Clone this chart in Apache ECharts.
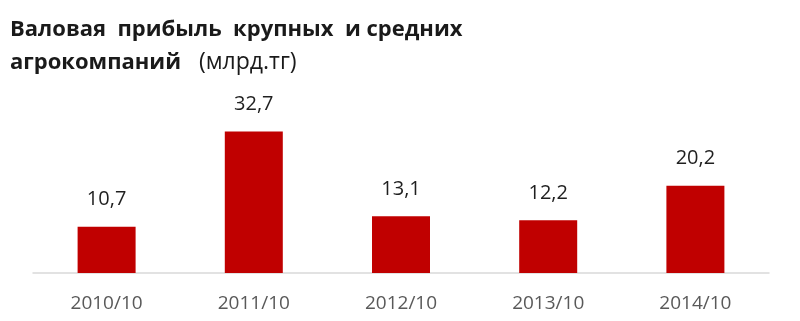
<!DOCTYPE html>
<html><head><meta charset="utf-8">
<script src="https://cdn.jsdelivr.net/npm/echarts@6/dist/echarts.min.js"></script>
<style>html,body{margin:0;padding:0;background:#fff}#c{width:800px;height:321px}</style>
</head><body><div id="c"></div>
<script>
const categories = ['2010/10', '2011/10', '2012/10', '2013/10', '2014/10'];
const values = [10.7, 32.7, 13.1, 12.2, 20.2];
const titleLine1 = 'Валовая  прибыль  крупных  и средних';
const titleLine2a = 'агрокомпаний';
const titleLine2b = '   (млрд.тг)';

const chart = echarts.init(document.getElementById('c'), null, {renderer: 'canvas'});
chart.setOption({
  backgroundColor: '#ffffff',
  animation: false,
  title: {
    left: 5, top: 8,
    text: '{b|' + titleLine1 + '}\n{b|' + titleLine2a + '}{n|' + titleLine2b + '}',
    textStyle: {
      rich: {
        b: {fontFamily: 'Open Sans', fontWeight: 'bold', fontSize: 22, color: '#1a1a1a', lineHeight: 33},
        n: {fontFamily: 'Open Sans', fontWeight: 'normal', fontSize: 23, color: '#1a1a1a', lineHeight: 33}
      }
    }
  },
  grid: {left: 33, right: 31, top: 100, bottom: 48},
  xAxis: {
    type: 'category', data: categories,
    axisLine: {lineStyle: {color: '#d9d9d9', width: 1.5}},
    axisTick: {show: false},
    axisLabel: {fontFamily: 'Open Sans', fontSize: 19, color: '#595959', margin: 21}
  },
  yAxis: {type: 'value', min: 0, max: 40, show: false, splitLine: {show: false}},
  series: [{
    type: 'bar', data: values, barWidth: 58,
    itemStyle: {color: '#c00000'},
    label: {
      show: true, position: 'top', distance: 17,
      fontFamily: 'Open Sans', fontSize: 20, color: '#1f1f1f',
      formatter: p => String(p.value).replace('.', ',')
    }
  }]
});
</script></body></html>
